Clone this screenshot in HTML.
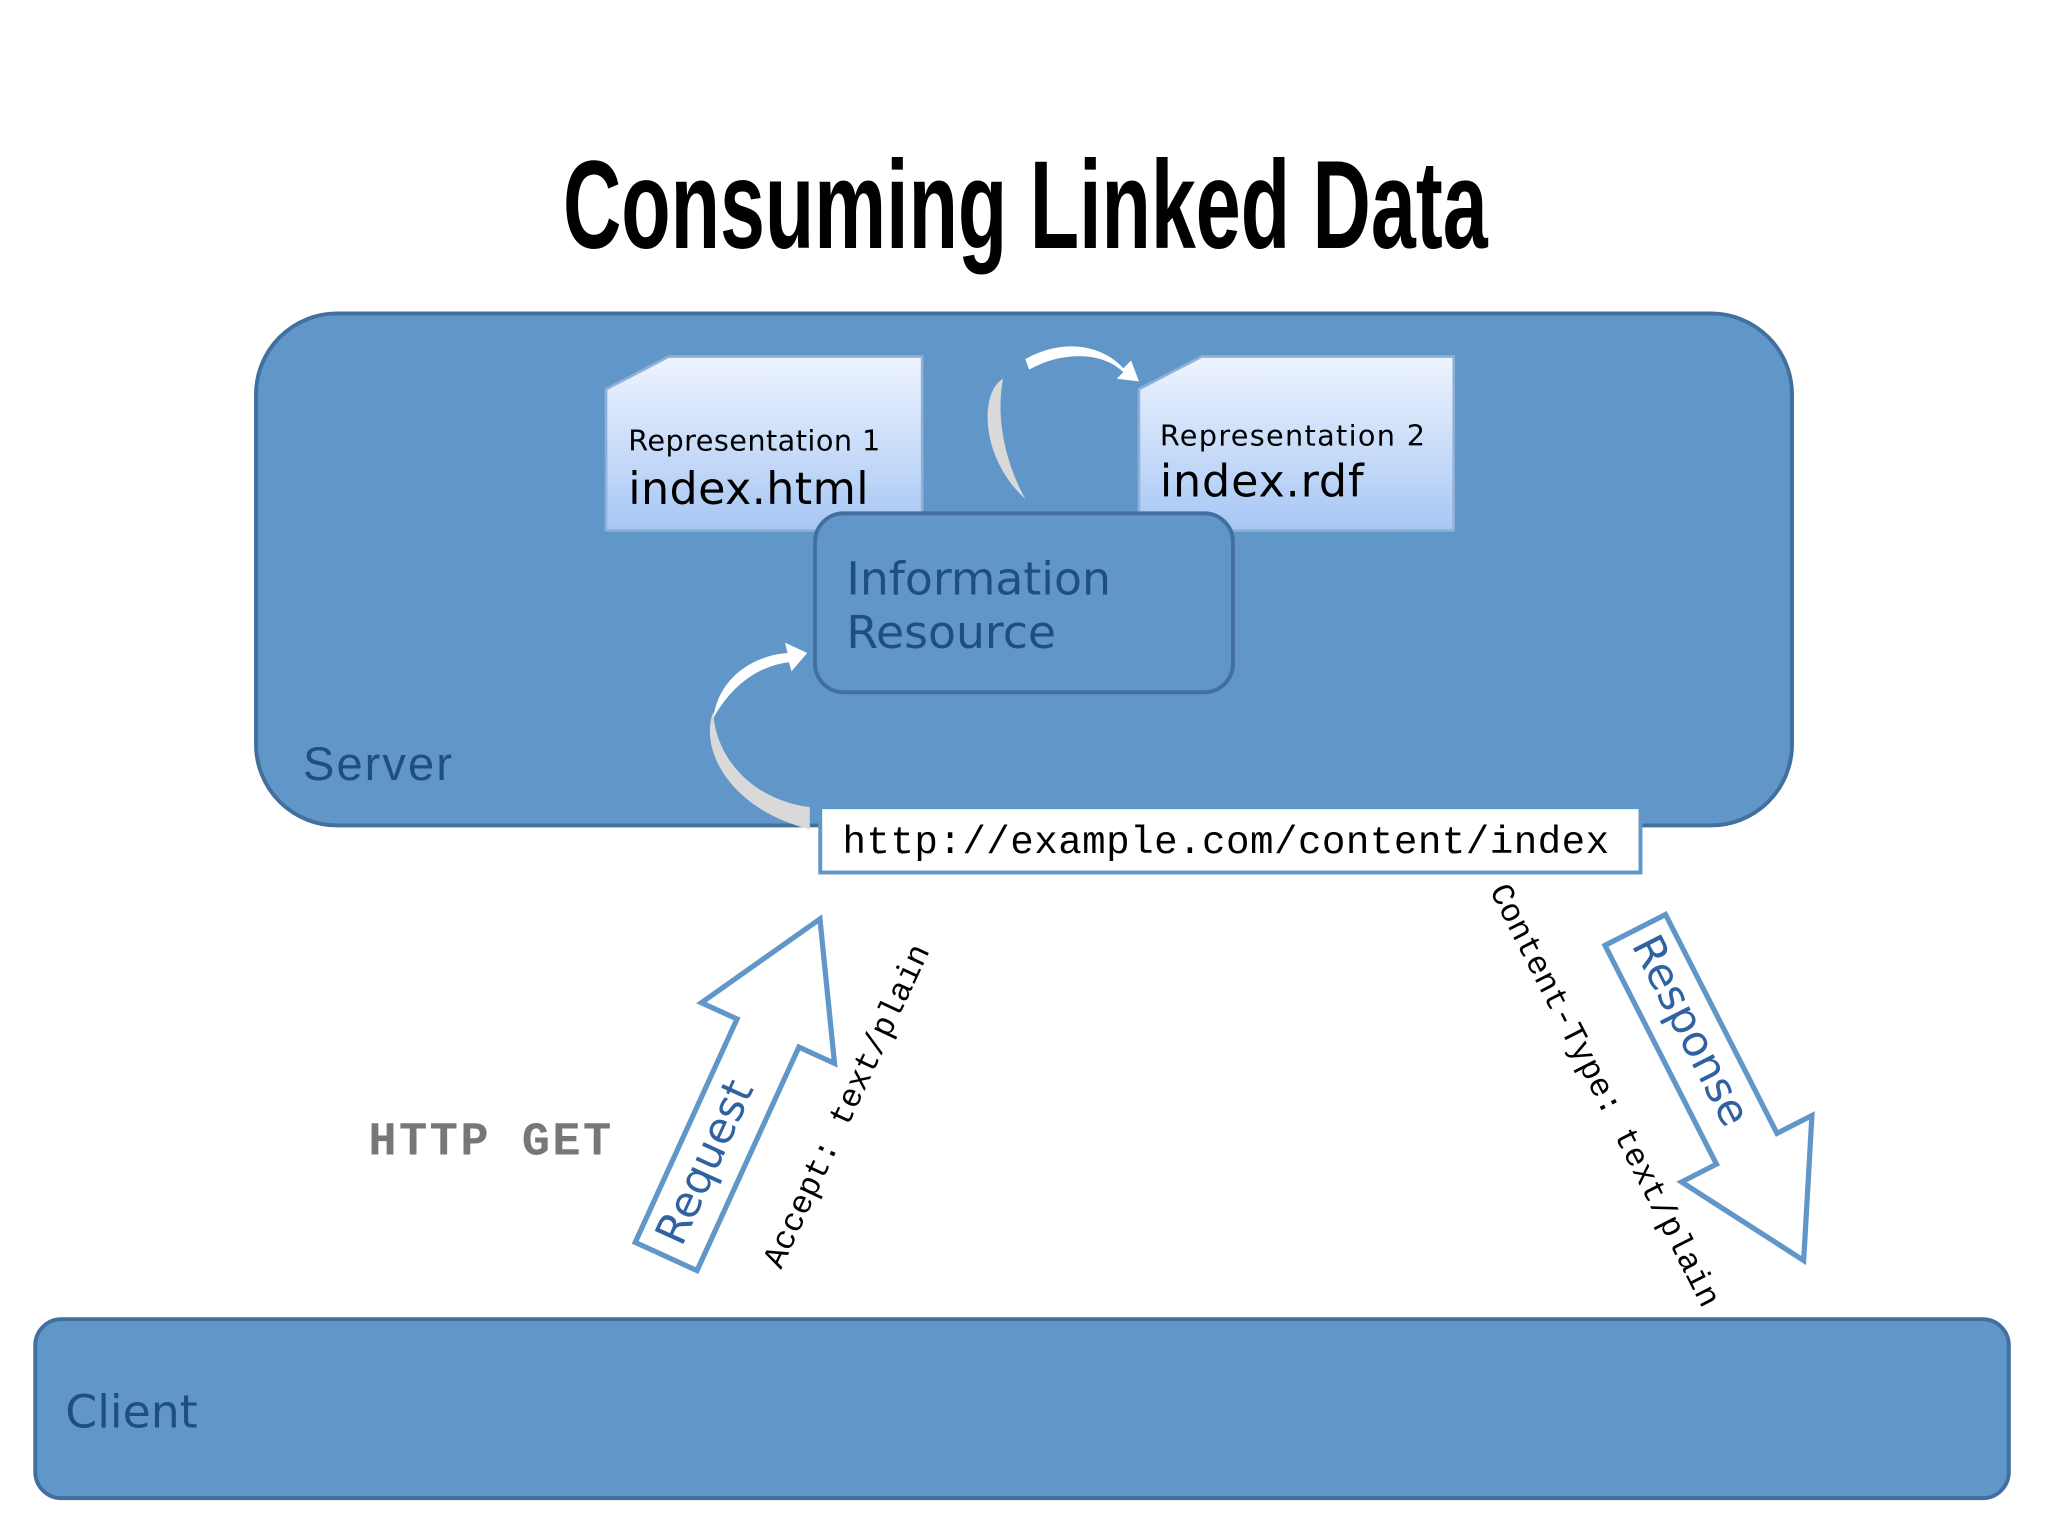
<!DOCTYPE html>
<html><head><meta charset="utf-8"><style>html,body{margin:0;padding:0;background:#fff}svg{display:block}</style></head>
<body>
<svg width="2048" height="1536" viewBox="0 0 1568 1176" xmlns="http://www.w3.org/2000/svg">
<defs>
<linearGradient id="g" x1="0" y1="0" x2="0" y2="1"><stop offset="0" stop-color="#eef4fe"/><stop offset="1" stop-color="#a7c7f4"/></linearGradient>
</defs>
<rect width="1568" height="1176" fill="#fff"/>
<text x="785" y="190" text-anchor="middle" font-family="Liberation Sans, sans-serif" font-weight="bold" font-size="96" textLength="708" lengthAdjust="spacingAndGlyphs" fill="#000">Consuming Linked Data</text>

<rect x="196" y="240" width="1176" height="392" rx="62" fill="#6196c9" stroke="#41709f" stroke-width="3"/>
<text x="232" y="597" font-family="Liberation Sans, DejaVu Sans, sans-serif" font-size="36" textLength="114" fill="#1f4e80">Server</text>

<polygon points="512,273 706,273 706,406 464,406 464,298" fill="url(#g)" stroke="#8fb0d8" stroke-width="2"/>
<text x="481" y="345" font-family="DejaVu Sans, sans-serif" font-size="22" textLength="193" fill="#000">Representation 1</text>
<text x="481" y="386" font-family="DejaVu Sans, sans-serif" font-size="34" textLength="184" fill="#000">index.html</text>

<polygon points="920,273 1113,273 1113,406 872,406 872,298" fill="url(#g)" stroke="#8fb0d8" stroke-width="2"/>
<text x="888" y="341" font-family="DejaVu Sans, sans-serif" font-size="22" textLength="203" fill="#000">Representation 2</text>
<text x="888" y="380" font-family="DejaVu Sans, sans-serif" font-size="34" textLength="156" fill="#000">index.rdf</text>

<path d="M785,382 C750,350 750,300 768,290 C762,320 770,355 785,382 Z" fill="#d9d9d9"/>
<path d="M785,275 C815,258 845,265 860,282 L866,276 L872,292 L855,290 L860,285 C845,270 815,268 788,283 Z" fill="#fff"/>
<path d="M620,635 C560,620 535,575 546,545 C548,580 575,612 620,618 Z" fill="#d9d9d9"/>
<path d="M546,550 C550,520 575,502 603,500 L601,492 L618,500 L606,514 L604,507 C580,510 560,525 546,550 Z" fill="#fff"/>

<rect x="624" y="393" width="320" height="137" rx="22" fill="#6196c9" stroke="#41709f" stroke-width="3"/>
<text x="648" y="455" font-family="DejaVu Sans, sans-serif" font-size="35" fill="#1f4e80">Information</text>
<text x="648" y="496" font-family="DejaVu Sans, sans-serif" font-size="35" fill="#1f4e80">Resource</text>

<rect x="628" y="618" width="628" height="50" fill="#fff" stroke="#6196c9" stroke-width="3"/>
<text x="645" y="653" font-family="Liberation Mono, monospace" font-size="30" textLength="587" fill="#000">http://example.com/content/index</text>

<text x="282" y="884" font-family="Liberation Mono, monospace" font-weight="bold" font-size="36" textLength="186" fill="#777">HTTP GET</text>

<g transform="translate(510,962) rotate(24.5)">
<polygon points="-26,0 26,0 26,-188 56,-188 0,-284 -56,-188 -26,-188" fill="#fff" stroke="#6196c9" stroke-width="4"/>
<text transform="translate(8,-78) rotate(-90)" text-anchor="middle" font-family="DejaVu Sans, sans-serif" font-size="33" fill="#2f62a0">Request</text>
</g>
<text transform="translate(655,850) rotate(-65)" text-anchor="middle" font-family="Liberation Mono, monospace" font-size="25" fill="#000">Accept: text/plain</text>

<g transform="translate(1252,712) rotate(-27)">
<polygon points="-26,0 26,0 26,188 56,188 0,284 -56,188 -26,188" fill="#fff" stroke="#6196c9" stroke-width="4"/>
<text transform="translate(-8,88) rotate(90)" text-anchor="middle" font-family="DejaVu Sans, sans-serif" font-size="33" fill="#2f62a0">Response</text>
</g>
<text transform="translate(1222,842) rotate(63)" text-anchor="middle" font-family="Liberation Mono, monospace" font-size="25" fill="#000">Content-Type: text/plain</text>

<rect x="27" y="1010" width="1511" height="137" rx="20" fill="#6196c9" stroke="#41709f" stroke-width="3"/>
<text x="50" y="1093" font-family="DejaVu Sans, sans-serif" font-size="35" fill="#1f4e80">Client</text>
</svg>
</body></html>
